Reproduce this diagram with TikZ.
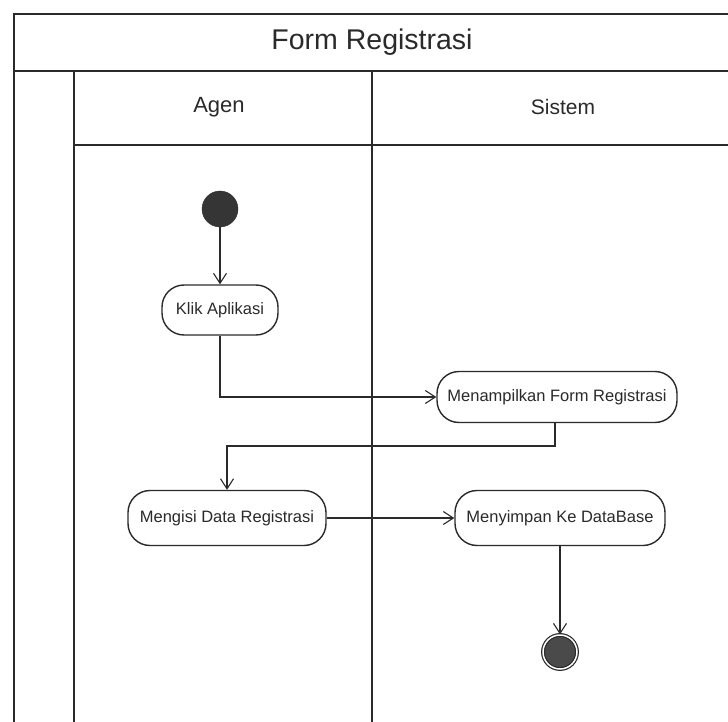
\documentclass[tikz,border=0pt]{standalone}
\usepackage{fontspec}
\setmainfont{Liberation Sans}
\usetikzlibrary{arrows.meta}
\definecolor{ink}{HTML}{2A2A2A}
\tikzset{
  frameline/.style={draw=ink, line width=1.8pt},
  laneline/.style={draw=ink, line width=1.3pt},
  activity/.style={draw=ink, line width=1.4pt, rounded corners=22pt, inner sep=0pt,
                   font=\fontsize{16.5}{18}\selectfont, text=ink},
  flow/.style={draw=ink, line width=1.1pt, -{Straight Barb[length=10pt,width=13pt,line width=1.1pt]}},
  startdot/.style={circle, fill=ink!95, draw=ink, minimum size=36pt, inner sep=0pt},
  enddot/.style={circle, fill=ink!85, draw=ink, line width=1.2pt, minimum size=34pt, inner sep=0pt,
                 double=white, double distance=1.5pt},
  header/.style={font=\fontsize{21}{24}\selectfont, text=ink},
}
\begin{document}
\begin{tikzpicture}[x=1pt, y=-1pt]
  \useasboundingbox (0,0) rectangle (728,722);
  \fill[white] (0,0) rectangle (728,722);

  % outer frame and lane grid
  \draw[frameline] (728,14) -- (14,14) -- (14,722);
  \draw[frameline] (14,71) -- (728,71);
  \draw[laneline] (74,71) -- (74,722);
  \draw[laneline] (372,71) -- (372,722);
  \draw[laneline] (74,145) -- (728,145);

  % titles
  \node[header, font=\fontsize{28.5}{32}\selectfont] (title) at (372,42) {Form Registrasi};
  \node[header, font=\fontsize{22}{25}\selectfont] (agen) at (219,107) {Agen};
  \node[header] (sistem) at (563,107) {Sistem};

  % activities
  \node[startdot] (start) at (220,209) {};
  \node[activity, minimum width=116pt, minimum height=50pt] (klik) at (220,310) {Klik Aplikasi};
  \node[activity, minimum width=240pt, minimum height=51pt] (tampil) at (557,397) {Menampilkan Form Registrasi};
  \node[activity, minimum width=198pt, minimum height=55pt] (isi) at (227,518) {Mengisi Data Registrasi};
  \node[activity, minimum width=210pt, minimum height=55pt] (simpan) at (560,518) {Menyimpan Ke DataBase};
  \node[enddot] (finish) at (560,652) {};

  % control flow
  \draw[flow] (start) -- (klik);
  \draw[flow] (klik.south) |- (tampil.west);
  \draw[flow] (tampil.south -| 555,0) -- (555,446) -| (isi.north);
  \draw[flow] (isi) -- (simpan);
  \draw[flow] (simpan) -- (finish);
\end{tikzpicture}
\end{document}
